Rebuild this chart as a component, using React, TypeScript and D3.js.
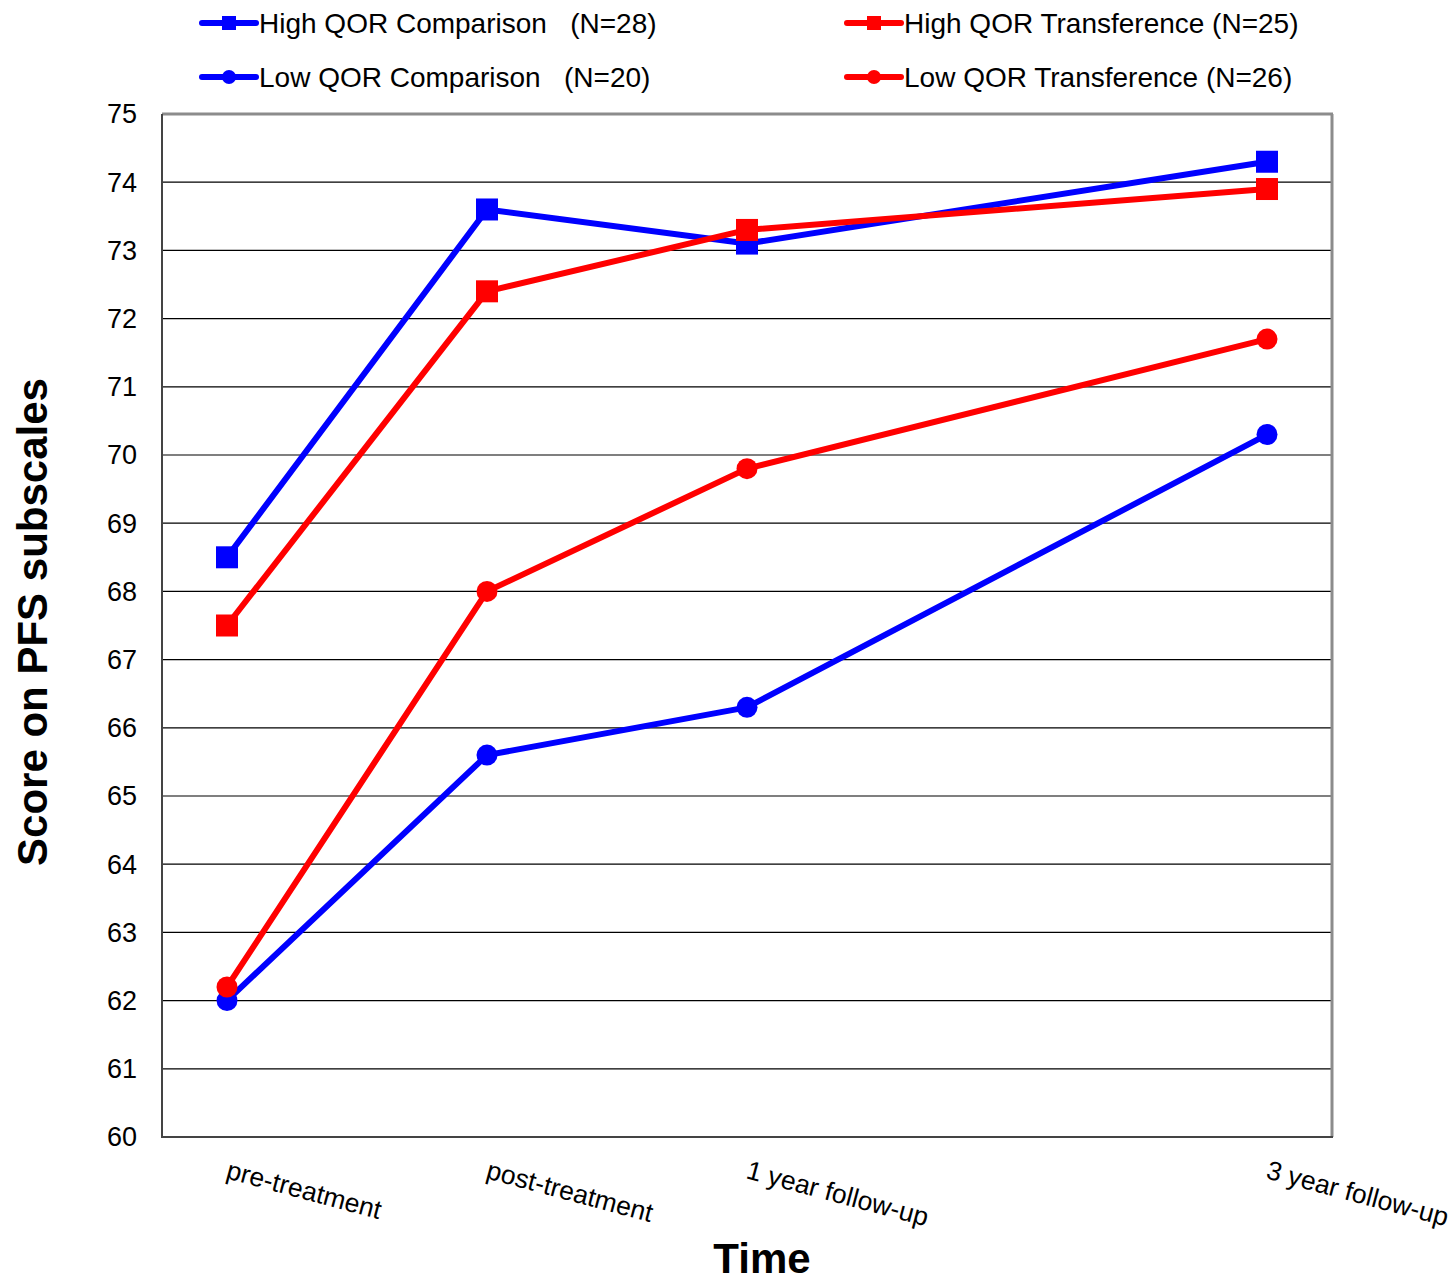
import React from "react";
import * as d3 from "d3";

// Measurement occasions (position along the time axis, in intervals)
const timeLabels = ["pre-treatment", "post-treatment", "1 year follow-up", "3 year follow-up"];
const timePositions = [0, 1, 2, 4];

// Mean PFS subscale scores per group
const highComparison = [68.5, 73.6, 73.1, 74.3];
const highTransference = [67.5, 72.4, 73.3, 73.9];
const lowComparison = [62.0, 65.6, 66.3, 70.3];
const lowTransference = [62.2, 68.0, 69.8, 71.7];

const yTicks = [60, 61, 62, 63, 64, 65, 66, 67, 68, 69, 70, 71, 72, 73, 74, 75];

const seriesNames = [
  "High QOR Comparison   (N=28)",
  "High QOR Transference (N=25)",
  "Low QOR Comparison   (N=20)",
  "Low QOR Transference (N=26)",
];

const W = 1456;
const H = 1282;
const left = 162;
const right = 1332;
const top = 114;
const bottom = 1137;

const BLUE = "#0000ff";
const RED = "#ff0000";

type Series = { name: string; values: number[]; color: string; shape: "square" | "circle" };

const series: Series[] = [
  { name: seriesNames[0], values: highComparison, color: BLUE, shape: "square" },
  { name: seriesNames[1], values: highTransference, color: RED, shape: "square" },
  { name: seriesNames[2], values: lowComparison, color: BLUE, shape: "circle" },
  { name: seriesNames[3], values: lowTransference, color: RED, shape: "circle" },
];

const x = d3.scaleLinear().domain([-0.25, 4.25]).range([left, right]);
const y = d3.scaleLinear().domain([60, 75]).range([bottom, top]);

const line = d3
  .line<number>()
  .x((_, i) => x(timePositions[i]))
  .y((d) => y(d));

const FONT = "Arial, 'Liberation Sans', Helvetica, sans-serif";

function Marker({ cx, cy, color, shape, size }: { cx: number; cy: number; color: string; shape: string; size: number }) {
  if (shape === "square") {
    return <rect x={cx - size / 2} y={cy - size / 2} width={size} height={size} fill={color} />;
  }
  return <circle cx={cx} cy={cy} r={size / 2} fill={color} />;
}

export default function App() {
  const legendPos = [
    { lx: 200, ly: 23 },
    { lx: 845, ly: 23 },
    { lx: 200, ly: 77 },
    { lx: 845, ly: 77 },
  ];
  return (
    <svg width={W} height={H} style={{ display: "block", position: "absolute", left: 0, top: 0 }} fontFamily={FONT}>
      <rect x={0} y={0} width={W} height={H} fill="#fff" />

      {/* horizontal gridlines */}
      {yTicks.slice(1, -1).map((t) => (
        <line key={t} x1={left} x2={right} y1={y(t)} y2={y(t)} stroke="#000" strokeWidth={1.2} />
      ))}

      {/* plot frame: light top/right, dark left/bottom */}
      <line x1={left} x2={right + 1} y1={top} y2={top} stroke="#8c8c8c" strokeWidth={3} />
      <line x1={right} x2={right} y1={top} y2={bottom} stroke="#8c8c8c" strokeWidth={3} />
      <line x1={left} x2={left} y1={top} y2={bottom + 1} stroke="#444" strokeWidth={2} />
      <line x1={left} x2={right + 1} y1={bottom} y2={bottom} stroke="#444" strokeWidth={2} />

      {/* y tick labels */}
      {yTicks.map((t) => (
        <text key={t} x={137} y={y(t)} dy="0.35em" textAnchor="end" fontSize={27} fill="#000">
          {t}
        </text>
      ))}

      {/* x tick labels, slanted */}
      {timeLabels.map((lab, i) => (
        <text
          key={lab}
          transform={`translate(${x(timePositions[i]) - 2},${1178}) rotate(15)`}
          fontSize={26.5}
          fill="#000"
        >
          {lab}
        </text>
      ))}

      {/* axis titles */}
      <text x={762} y={1273} textAnchor="middle" fontSize={42} fontWeight="bold" fill="#000">
        Time
      </text>
      <text
        transform={`translate(47,${622}) rotate(-90)`}
        textAnchor="middle"
        fontSize={42}
        fontWeight="bold"
        fill="#000"
      >
        Score on PFS subscales
      </text>

      {/* series */}
      {series.map((s) => (
        <g key={s.name}>
          <path d={line(s.values) ?? ""} fill="none" stroke={s.color} strokeWidth={6} strokeLinejoin="round" />
          {s.values.map((v, i) => (
            <Marker key={i} cx={x(timePositions[i])} cy={y(v)} color={s.color} shape={s.shape} size={s.shape === "square" ? 22 : 21} />
          ))}
        </g>
      ))}

      {/* legend */}
      {series.map((s, i) => {
        const { lx, ly } = legendPos[i];
        return (
          <g key={s.name}>
            <line x1={lx + 2} x2={lx + 56} y1={ly} y2={ly} stroke={s.color} strokeWidth={6} strokeLinecap="round" />
            <Marker cx={lx + 29} cy={ly} color={s.color} shape={s.shape} size={14} />
            <text x={lx + 59} y={ly} dy="0.35em" fontSize={28} fill="#000" style={{ whiteSpace: "pre" }}>
              {s.name}
            </text>
          </g>
        );
      })}
    </svg>
  );
}
